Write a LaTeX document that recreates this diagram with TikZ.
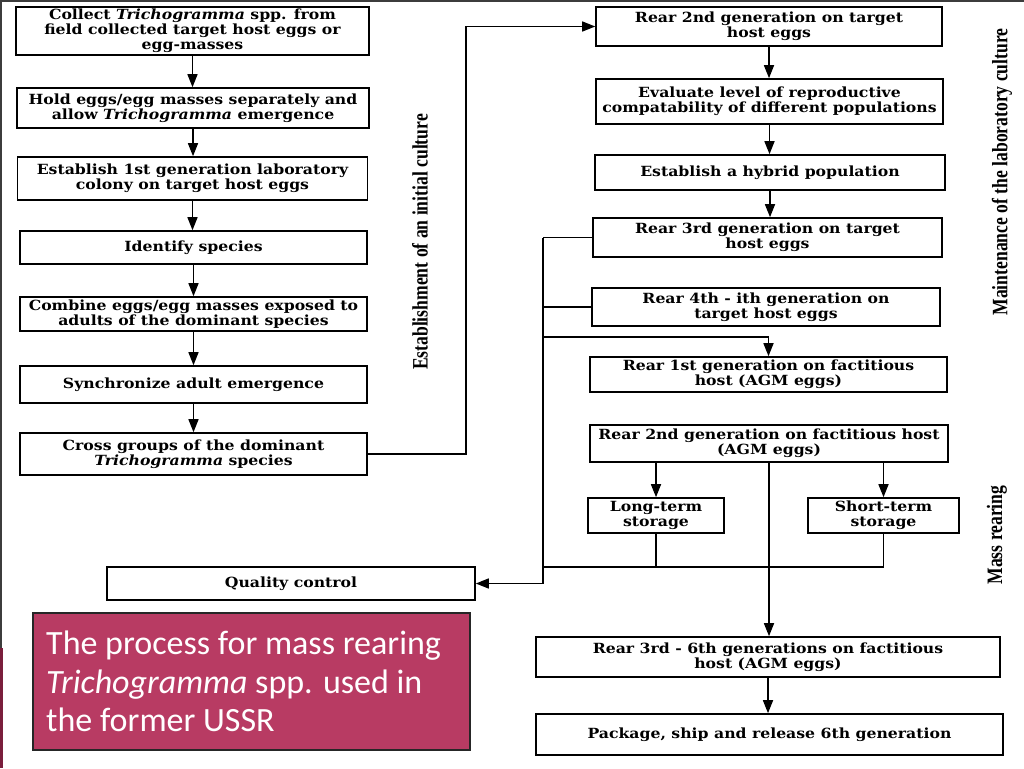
\documentclass[tikz,border=0pt]{standalone}
\usepackage{fontspec}
\setmainfont{DejaVu Serif}
\newfontfamily\boxfont[FakeStretch=1.12]{DejaVu Serif}
\newfontfamily\sidefont[FakeStretch=0.8]{Liberation Serif}
\newfontfamily\capfont{Carlito}
\usetikzlibrary{arrows.meta,calc}
\definecolor{capfill}{RGB}{184,59,99}
\definecolor{maroon}{RGB}{122,30,60}
\definecolor{frame}{RGB}{60,60,60}
\tikzset{
  box/.style={draw=black, line width=1.6pt, fill=white, inner sep=0pt, align=center,
    font=\boxfont\bfseries\fontsize{14}{15}\selectfont},
  ln/.style={line width=1.5pt},
  arr/.style={line width=1.5pt, -{Triangle[length=13pt,width=10pt]}},
  side/.style={font=\sidefont\bfseries\fontsize{22}{24}\selectfont, rotate=90, inner sep=0pt},
}
\begin{document}
\begin{tikzpicture}[x=1pt,y=-1pt]
\useasboundingbox (0,0) rectangle (1024,768);
\fill[white] (0,0) rectangle (1024,768);
\draw[frame, line width=2pt] (0,1) -- (1024,1);
\draw[frame, line width=2pt] (1,0) -- (1,648);
\fill[maroon] (0,648) rectangle (3,768);

% left column
\node[box, minimum width=353, minimum height=48] (L1) at (192.5,31) {Collect \textit{Trichogramma} spp. from\\field collected target host eggs or\\egg-masses};
\node[box, minimum width=352, minimum height=40] (L2) at (193,108) {Hold eggs/egg masses separately and\\allow \textit{Trichogramma} emergence};
\node[box, minimum width=350, minimum height=43] (L3) at (192.5,178.5) {Establish 1st generation laboratory\\colony on target host eggs};
\node[box, minimum width=347, minimum height=33] (L4) at (193.5,247.5) {Identify species};
\node[box, minimum width=347, minimum height=34] (L5) at (193.5,314) {Combine eggs/egg masses exposed to\\adults of the dominant species};
\node[box, minimum width=347, minimum height=37] (L6) at (193.5,384.5) {Synchronize adult emergence};
\node[box, minimum width=347, minimum height=42] (L7) at (193.5,454) {Cross groups of the dominant\\\textit{Trichogramma} species};
\node[box, minimum width=368, minimum height=33] (QC) at (291,583.5) {Quality control};

% right column
\node[box, minimum width=346, minimum height=39] (R1) at (769,26.5) {Rear 2nd generation on target\\host eggs};
\node[box, minimum width=347, minimum height=45] (R2) at (769.5,101.5) {Evaluate level of reproductive\\compatability of different populations};
\node[box, minimum width=350, minimum height=35] (R3) at (770,172.5) {Establish a hybrid population};
\node[box, minimum width=349, minimum height=39] (R4) at (767.5,237.5) {Rear 3rd generation on target\\host eggs};
\node[box, minimum width=348, minimum height=38] (R5) at (766,307) {Rear 4th - ith generation on\\target host eggs};
\node[box, minimum width=357, minimum height=35] (R6) at (768.5,374.5) {Rear 1st generation on factitious\\host (AGM eggs)};
\node[box, minimum width=358, minimum height=37] (R7) at (769,443.5) {Rear 2nd generation on factitious host\\(AGM eggs)};
\node[box, minimum width=136, minimum height=35] (LT) at (656,515.5) {Long-term\\storage};
\node[box, minimum width=151, minimum height=35] (ST) at (883.5,515.5) {Short-term\\storage};
\node[box, minimum width=464, minimum height=40] (R8) at (768,657) {Rear 3rd - 6th generations on factitious\\host (AGM eggs)};
\node[box, minimum width=467, minimum height=41] (R9) at (769.5,734.5) {Package, ship and release 6th generation};

% side labels
\node[side] (S1) at (420,242) {Establishment of an initial culture};
\node[side] (S2) at (1002,172) {Maintenance of the laboratory culture};
\node[side] (S3) at (997,535) {Mass rearing};

% caption
\node[draw=black!85, line width=1.5pt, fill=capfill, minimum width=437, minimum height=137, inner sep=0pt] (CB) at (251.5,681.5) {};
\node[anchor=north west, inner sep=0pt, align=left, text=white,
  font=\capfont\fontsize{34}{38.5}\selectfont] (CT) at (46,631) {The process for mass rearing\\\textit{Trichogramma} spp. used in\\the former USSR};

% coordinates
\coordinate (bus) at (543,0);
\coordinate (up) at (466,0);
\coordinate (j6) at (0,337);
\coordinate (jb) at (0,567);

% left arrows
\draw[arr] (L1.south) -- (L1.south |- L2.north);
\draw[arr] (L2.south) -- (L2.south |- L3.north);
\draw[arr] (L3.south) -- (L3.south |- L4.north);
\draw[arr] (L4.south) -- (L4.south |- L5.north);
\draw[arr] (L5.south) -- (L5.south |- L6.north);
\draw[arr] (L6.south) -- (L6.south |- L7.north);
\draw[arr] (L7.east) -| (up |- R1.west) -- (R1.west);

% right arrows
\draw[arr] (R1.south) -- (R1.south |- R2.north);
\draw[arr] (R2.south) -- (R2.south |- R3.north);
\draw[arr] (R3.south) -- (R3.south |- R4.north);
\draw[ln] (R4.west) -- (R4.west -| bus);
\draw[arr] (R4.west -| bus) -- (bus |- QC.east) -- (QC.east);
\draw[ln] (R5.west) -- (R5.west -| bus);
\draw[arr] (bus |- j6) -| (R6.north);
\draw[arr] (LT.north |- R7.south) -- (LT.north);
\draw[arr] (ST.north |- R7.south) -- (ST.north);
\draw[ln] (LT.south) -- (LT.south |- jb);
\draw[ln] (ST.south) -- (ST.south |- jb);
\draw[ln] (bus |- jb) -- (ST.south |- jb);
\draw[arr] (R7.south) -- (R7.south |- R8.north);
\draw[arr] (R8.south) -- (R8.south |- R9.north);
\end{tikzpicture}
\end{document}
